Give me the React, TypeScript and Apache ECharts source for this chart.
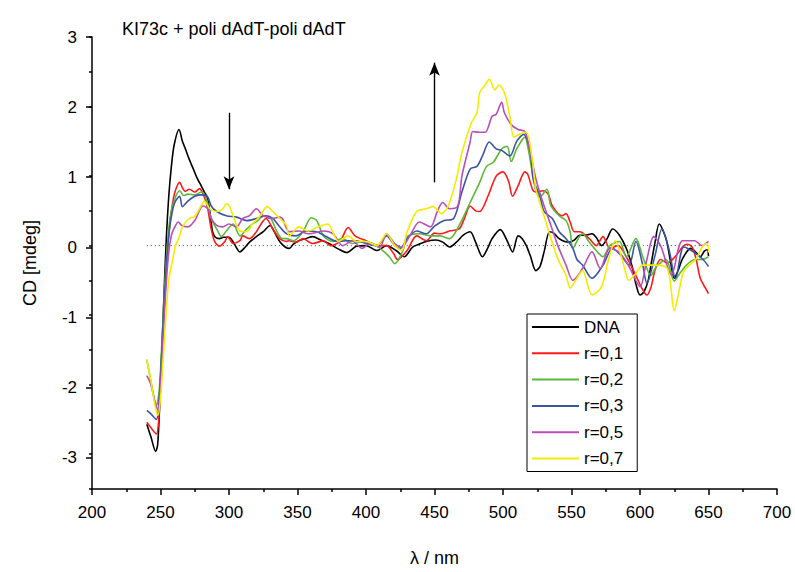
import React, { useEffect, useRef } from "react";
import * as echarts from "echarts";

const FONT = "'Liberation Sans', Arial, Helvetica, sans-serif";

const titleText = "KI73c + poli dAdT-poli dAdT";
const xName = "λ / nm";
const yName = "CD [mdeg]";

const seriesNames = ["DNA", "r=0,1", "r=0,2", "r=0,3", "r=0,5", "r=0,7"];
const seriesColors = ["#000000", "#ff1a1a", "#5cb83a", "#3b55a5", "#b94fb6", "#f4ec00"];

// [wavelength nm, CD mdeg]
const dnaData = [
  [240, -2.57], [243, -2.75], [246.5, -2.96], [248, -2.85], [250, -2.0], [252, -1.0], [254, 0.0],
  [256, 0.7], [258, 1.15], [260, 1.45], [263.5, 1.67], [266, 1.5], [268, 1.4], [271, 1.24],
  [274, 1.1], [277, 0.96], [280, 0.85], [282, 0.77], [284, 0.7], [286, 0.49], [288, 0.2],
  [290, 0.12], [293, 0.1], [296, 0.12], [300, 0.12], [304, 0.02], [308, -0.09], [311, -0.04],
  [315, 0.05], [320, 0.13], [325, 0.2], [330, 0.29], [333, 0.2], [337, 0.06], [341, -0.02],
  [344, -0.04], [347, 0.02], [351, 0.07], [356, 0.1], [361, 0.13], [367, 0.08], [373, 0.03],
  [380, -0.05], [386, -0.1], [393, -0.01], [400, 0], [408, -0.07], [415, 0], [422, -0.07],
  [428, -0.16], [434, -0.02], [440, 0.03], [444, 0.06], [451, 0.08], [456, 0.05], [461, -0.02],
  [466, 0.05], [471, 0.15], [476, 0.2], [480, 0.05], [485, -0.16], [489, -0.03], [492, 0.1],
  [498, 0.23], [503, 0.07], [507, -0.09], [511, 0.14], [514, 0.1], [517, 0], [520, -0.15],
  [524, -0.36], [527, -0.3], [530, -0.09], [534, 0.2], [537, 0.18], [541, 0.1], [545, 0.06],
  [549, 0.05], [552, 0.08], [556, 0.15], [560, 0.15], [565, 0.17], [568, 0.12], [572, 0],
  [576, 0.1], [580, 0.24], [585, 0.15], [590, -0.04], [594, -0.28], [597, -0.55], [600, -0.71],
  [603, -0.66], [606, -0.5], [608, -0.28], [611, 0.05], [614, 0.31], [619, 0.1], [622, -0.2],
  [625, -0.47], [628, -0.35], [631, -0.19], [637, -0.04], [641, -0.1], [644, -0.16], [647, -0.08],
  [649, -0.06], [650, -0.15],
];

const r01Data = [
  [240, -2.54], [243, -2.62], [247, -2.71], [249, -2.4], [251, -1.6], [253, -0.8], [255, -0.1],
  [257, 0.35], [259, 0.63], [261, 0.8], [264, 0.91], [266, 0.83], [268, 0.78], [271, 0.81],
  [275, 0.77], [278.5, 0.82], [282, 0.7], [284.5, 0.53], [287, 0.24], [289.5, 0.06], [293, -0.01],
  [297, 0.06], [299, 0.13], [303, 0.03], [308, 0.07], [310, 0.14], [315, 0.1], [320, 0.2],
  [324, 0.33], [327, 0.39], [332, 0.24], [337, 0.1], [342, 0.06], [344, 0.07], [349, 0.05],
  [354, 0.1], [361, 0.03], [369, 0.07], [374, 0], [381, 0.06], [387, 0.26], [392, 0.14],
  [400, 0.07], [408, 0], [415, 0], [420, -0.11], [423, -0.2], [430, -0.07], [437, 0.14],
  [444, 0.07], [450, 0.18], [454, 0.17], [461, 0.21], [468, 0.24], [472, 0.4], [476, 0.57],
  [480, 0.5], [483, 0.49], [489, 0.71], [495, 1.0], [500, 1.06], [504, 0.93], [507, 0.71],
  [511, 0.86], [516, 1.06], [518, 1.03], [522, 0.79], [525, 0.77], [529, 0.79], [533, 0.74],
  [536, 0.57], [543, 0.43], [546, 0.46], [549, 0.34], [552, 0.2], [556, 0.2], [563, 0.1],
  [568, 0], [573, 0.13], [578, -0.04], [584, 0], [590, -0.16], [597, -0.43], [601, -0.6],
  [605, -0.71], [608, -0.6], [611, -0.35], [615, -0.2], [620, -0.25], [626, -0.15], [631, -0.02],
  [634, 0.02], [638, -0.02], [641, -0.2], [644, -0.47], [648, -0.62], [650, -0.69],
];

const r02Data = [
  [240, -1.64], [243, -1.95], [247, -2.3], [249, -2.1], [251, -1.4], [253, -0.6], [255, 0.0],
  [257, 0.4], [260, 0.65], [264, 0.79], [267, 0.72], [270, 0.74], [275, 0.73], [280, 0.77],
  [283.5, 0.67], [287, 0.39], [291, 0.24], [294.5, 0.13], [298, 0.21], [303, 0.31], [308, 0.14],
  [313, 0.24], [317, 0.31], [321, 0.36], [325, 0.43], [330, 0.41], [335, 0.2], [339, 0.1],
  [342, 0.1], [347, 0.07], [354, 0.2], [360, 0.4], [364, 0.36], [369, 0.14], [376, 0.06],
  [383, 0.1], [390, 0.03], [398, 0.06], [405, 0.03], [412, -0.07], [417, -0.16], [421, -0.26],
  [427, -0.07], [430, 0.13], [439, 0.17], [447, 0.14], [454, 0.14], [461, 0.1], [468, 0.29],
  [476, 0.62], [483, 0.91], [488, 1.14], [493, 1.2], [499, 1.39], [503, 1.43], [506, 1.21],
  [510, 1.39], [516, 1.56], [518, 1.43], [521, 1.1], [524, 0.79], [527, 0.7], [532, 0.81],
  [535, 0.57], [541, 0.43], [546, 0.36], [549, 0.2], [551, -0.04], [555, 0.1], [558, 0.17],
  [563, 0.05], [568, -0.07], [573, -0.16], [578, 0.0], [585, 0.06], [590, -0.16], [597, 0.1],
  [602, -0.16], [608, -0.43], [612, -0.3], [619, -0.2], [625, -0.51], [629, -0.4], [634, -0.28],
  [640, -0.2], [645, -0.2], [650, -0.16],
];

const r03Data = [
  [240, -2.37], [243, -2.42], [247, -2.5], [249, -2.2], [251, -1.5], [253, -0.7], [255, -0.1],
  [257, 0.3], [260, 0.6], [264, 0.71], [266, 0.56], [270, 0.64], [275, 0.71], [280, 0.73],
  [284.5, 0.7], [287, 0.57], [291, 0.49], [298, 0.43], [305.5, 0.41], [313, 0.36], [320, 0.39],
  [327, 0.43], [332, 0.39], [337, 0.27], [342, 0.17], [349, 0.14], [356, 0.21], [364, 0.2],
  [371, 0.13], [379, 0.06], [386, 0.07], [393, 0.07], [400, 0.03], [408, 0], [415, 0.14],
  [421, 0], [425, -0.04], [430, 0.1], [437, 0.21], [444, 0.17], [450, 0.28], [457, 0.36],
  [464, 0.39], [470, 0.77], [476, 1.1], [481, 1.14], [485, 1.29], [490, 1.49], [495, 1.39],
  [499, 1.37], [505, 1.29], [510, 1.5], [515, 1.6], [520, 1.34], [522, 0.96], [527, 0.71],
  [530, 0.49], [536, 0.39], [541, 0.2], [546, 0.1], [551, -0.04], [554, -0.2], [558, -0.28],
  [565, -0.47], [573, -0.28], [580, -0.04], [586, -0.14], [592, -0.28], [597, 0.06], [602, -0.28],
  [605, -0.54], [611, -0.14], [616, 0.24], [621, -0.04], [626, -0.47], [632, -0.02], [639, -0.09],
  [646, -0.2], [650, -0.3],
];

const r05Data = [
  [240, -1.87], [243, -2.0], [246, -2.25], [248, -2.36], [250, -2.0], [252, -1.3], [254, -0.6],
  [256, -0.1], [258, 0.15], [260, 0.25], [263, 0.34], [265.5, 0.29], [270, 0.27], [275, 0.36],
  [281, 0.57], [284.5, 0.53], [287, 0.39], [291, 0.29], [295.5, 0.27], [300, 0.31], [305.5, 0.27],
  [310, 0.39], [315, 0.43], [320, 0.53], [325, 0.43], [332, 0.39], [337, 0.41], [339, 0.39],
  [344, 0.2], [351, 0.21], [358, 0.17], [369, 0.21], [376, 0.17], [383, 0], [390, 0.07],
  [397, -0.04], [403, 0.03], [410, -0.02], [415, 0.17], [421, 0.03], [426, -0.02], [432, 0.14],
  [439, 0.34], [447, 0.27], [452, 0.49], [456, 0.62], [461, 0.53], [467, 0.57], [470, 1.0],
  [476, 1.49], [478, 1.64], [483, 1.63], [487, 1.63], [492, 1.86], [495, 1.89], [499, 2.06],
  [501, 1.91], [506, 1.74], [511, 1.67], [516, 1.64], [520, 1.34], [524, 0.96], [529, 0.63],
  [535, 0.29], [540, 0.0], [546, -0.28], [551, -0.5], [558, -0.33], [565, -0.09], [571, -0.33],
  [578, -0.04], [585, -0.1], [592, -0.3], [600, -0.59], [605, -0.2], [610, 0.13], [615, 0.0],
  [623, -0.42], [631, 0.07], [640, 0.07], [645, 0.0], [650, 0.06],
];

const r07Data = [
  [240, -1.64], [243, -1.95], [246, -2.3], [248, -2.44], [250, -2.2], [252, -1.6], [254, -1.0],
  [256, -0.5], [259, -0.19], [261, 0.0], [264, 0.14], [266, 0.27], [271, 0.39], [275, 0.42],
  [279, 0.55], [282, 0.64], [286, 0.53], [291, 0.49], [295.5, 0.53], [298, 0.6], [300, 0.58],
  [303, 0.43], [308, 0.21], [313, 0.2], [317, 0.31], [322, 0.41], [328, 0.56], [332, 0.49],
  [337, 0.39], [342, 0.29], [344, 0.14], [351, 0.27], [358, 0.21], [365, 0.27], [372, 0.31],
  [380, 0.06], [387, 0.14], [393, 0.06], [400, 0.06], [408, 0], [415, 0.17], [421, 0],
  [426, -0.07], [430, 0.2], [437, 0.49], [444, 0.53], [449, 0.56], [455, 0.46], [460, 0.57],
  [466, 0.96], [470, 1.34], [477, 1.77], [481, 1.91], [483, 2.2], [487, 2.31], [490, 2.39],
  [494, 2.24], [497, 2.31], [501, 2.2], [505, 1.86], [508, 1.56], [513, 1.61], [517, 1.63],
  [521, 1.29], [524, 0.81], [529, 0.49], [535, 0.1], [540, -0.19], [546, -0.43], [549, -0.61],
  [553, -0.5], [558, -0.36], [565, -0.71], [572, -0.59], [577, -0.2], [582, 0.07], [587, -0.2],
  [592, -0.5], [597, -0.4], [602, -0.28], [611, -0.28], [620, -0.33], [625, -0.94], [628, -0.7],
  [632, -0.37], [641, -0.19], [646, 0.0], [649, 0.03], [650, -0.1],
];

const seriesData = [dnaData, r01Data, r02Data, r03Data, r05Data, r07Data];

const zeroLine = [[240, 0], [650, 0]];
const downArrow = [[300, 1.91], [300, 0.81]];
const upArrow = [[450, 0.91], [450, 2.63]];

export default function App() {
  const ref = useRef<HTMLDivElement>(null);
  useEffect(() => {
    const chart = echarts.init(ref.current!, null, { renderer: "svg" });
    const txt = { color: "#000", fontFamily: FONT, fontSize: 17 };
    const lines: any[] = seriesNames.map((name, i) => ({
      name,
      type: "line",
      data: seriesData[i],
      showSymbol: false,
      symbol: "none",
      smooth: 0.3,
      lineStyle: { color: seriesColors[i], width: 1.6 },
      itemStyle: { color: seriesColors[i] },
      z: 3 + i,
    }));
    lines.unshift({
      name: "zero",
      type: "line",
      data: zeroLine,
      symbol: "none",
      lineStyle: { color: "#444", width: 1, type: [1, 3] },
      z: 2,
      markLine: {
        silent: true,
        symbol: ["none", "arrow"],
        symbolSize: [8, 13],
        label: { show: false },
        lineStyle: { color: "#000", width: 1.4, type: "solid" },
        data: [
          [{ coord: downArrow[0] }, { coord: downArrow[1] }],
          [{ coord: upArrow[0] }, { coord: upArrow[1] }],
        ],
      },
    });
    chart.setOption({
      animation: false,
      backgroundColor: "#fff",
      title: {
        text: titleText,
        left: 117,
        top: 15,
        textStyle: { ...txt, fontSize: 18, fontWeight: "normal" },
      },
      legend: {
        data: seriesNames.map((name) => ({ name, icon: "rect" })),
        orient: "vertical",
        left: 527,
        top: 314,
        itemWidth: 47,
        itemHeight: 2,
        itemGap: 9.3,
        padding: [4.5, 14, 4.5, 5],
        borderColor: "#000",
        borderWidth: 1,
        borderRadius: 0,
        backgroundColor: "#fff",
        textStyle: { ...txt, fontSize: 17, lineHeight: 17 },
        selectedMode: false,
      },
      grid: [
        { left: 92, right: 18, top: 37, bottom: 79, containLabel: false },
        { left: 92, right: 18, top: 37, bottom: 114.3, containLabel: false },
      ],
      xAxis: [
        {
          type: "value",
          gridIndex: 0,
          min: 200,
          max: 700,
          interval: 50,
          name: xName,
          nameLocation: "middle",
          nameGap: 60,
          nameTextStyle: { ...txt, fontSize: 18 },
          axisLine: { show: true, onZero: false, lineStyle: { color: "#000", width: 1.5 } },
          axisTick: { show: true, inside: false, length: 6, lineStyle: { color: "#000", width: 1.5 } },
          minorTick: { show: true, splitNumber: 2, length: 3, lineStyle: { color: "#000", width: 1.5 } },
          axisLabel: { ...txt, margin: 15 },
          splitLine: { show: false },
        },
        { type: "value", gridIndex: 1, min: 200, max: 700, show: false },
      ],
      yAxis: [
        {
          type: "value",
          gridIndex: 0,
          min: -3.5,
          max: 3,
          interval: 0.5,
          name: yName,
          nameLocation: "middle",
          nameGap: 53,
          nameTextStyle: { ...txt, fontSize: 18 },
          axisLine: { show: true, onZero: false, lineStyle: { color: "#000", width: 1.5 } },
          axisTick: { show: true, inside: false, length: 3, lineStyle: { color: "#000", width: 1.5 } },
          axisLabel: { show: false },
          splitLine: { show: false },
        },
        {
          type: "value",
          gridIndex: 1,
          min: -3,
          max: 3,
          interval: 1,
          axisLine: { show: false },
          axisTick: { show: true, inside: false, length: 6, lineStyle: { color: "#000", width: 1.5 } },
          axisLabel: { ...txt, margin: 15 },
          splitLine: { show: false },
        },
      ],
      series: lines,
    });
    return () => chart.dispose();
  }, []);
  return (
    <div
      ref={ref}
      style={{ position: "fixed", left: 0, top: 0, width: 795, height: 572, background: "#fff" }}
    />
  );
}
